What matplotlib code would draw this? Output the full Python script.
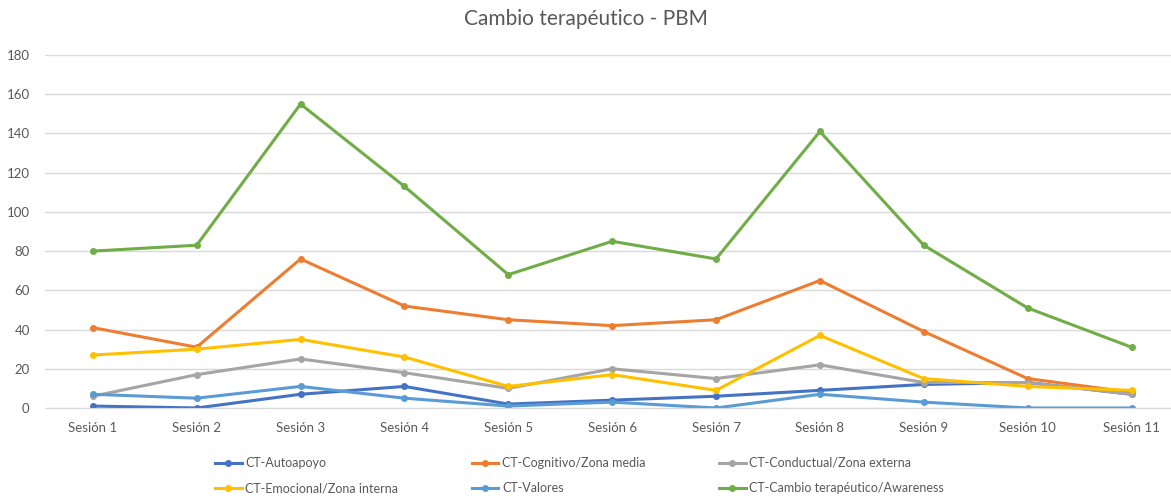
import matplotlib
matplotlib.use('Agg')
import matplotlib.pyplot as plt

plt.rcParams['font.family'] = ['Lato', 'DejaVu Sans']

sessions = ['Sesión 1', 'Sesión 2', 'Sesión 3', 'Sesión 4', 'Sesión 5', 'Sesión 6',
            'Sesión 7', 'Sesión 8', 'Sesión 9', 'Sesión 10', 'Sesión 11']

autoapoyo = [1, 0, 7, 11, 2, 4, 6, 9, 12, 13, 7]
cognitivo = [41, 31, 76, 52, 45, 42, 45, 65, 39, 15, 8]
conductual = [6, 17, 25, 18, 10, 20, 15, 22, 13, 13, 7]
emocional = [27, 30, 35, 26, 11, 17, 9, 37, 15, 11, 9]
valores = [7, 5, 11, 5, 1, 3, 0, 7, 3, 0, 0]
awareness = [80, 83, 155, 113, 68, 85, 76, 141, 83, 51, 31]

series = [
    ('CT-Autoapoyo', autoapoyo, '#4472C4'),
    ('CT-Cognitivo/Zona media', cognitivo, '#ED7D31'),
    ('CT-Conductual/Zona externa', conductual, '#A5A5A5'),
    ('CT-Emocional/Zona interna', emocional, '#FFC000'),
    ('CT-Valores', valores, '#5B9BD5'),
    ('CT-Cambio terapéutico/Awareness', awareness, '#70AD47'),
]

fig = plt.figure(figsize=(11.71, 5.01), dpi=100)
ax = fig.add_axes([45 / 1171, 1 - 408 / 501, 1 - 45 / 1171, (408 - 55) / 501])

x = list(range(len(sessions)))
handles = {}
for name, vals, col in series:
    h, = ax.plot(x, vals, color=col, lw=2.2, marker='o', ms=4, label=name,
                 solid_joinstyle='round')
    handles[name] = h

ax.set_ylim(0, 180)
ax.set_yticks(range(0, 181, 20))
ax.set_xlim(-0.46, 10.38)
ax.set_xticks(x)
ax.set_xticklabels(sessions)
ax.grid(axis='y', color='#D9D9D9', lw=1)
ax.set_axisbelow(True)
for s in ax.spines.values():
    s.set_visible(False)
ax.spines['bottom'].set_visible(True)
ax.spines['bottom'].set_color('#D9D9D9')
ax.tick_params(length=0, colors='#595959', labelsize=9.5)
ax.tick_params(axis='x', pad=10)
ax.tick_params(axis='y', pad=11)

fig.text(0.5, 0.962, 'Cambio terapéutico - PBM', ha='center', va='center',
         fontsize=15, color='#595959')

order = ['CT-Autoapoyo', 'CT-Emocional/Zona interna', 'CT-Cognitivo/Zona media',
         'CT-Valores', 'CT-Conductual/Zona externa', 'CT-Cambio terapéutico/Awareness']
leg = fig.legend([handles[n] for n in order], order, ncol=3, loc='center',
                 bbox_to_anchor=(0.495, 0.051), frameon=False, fontsize=9,
                 handlelength=2.1, columnspacing=5.9, labelspacing=1.05,
                 handletextpad=0.3)
for t in leg.get_texts():
    t.set_color('#595959')

fig.savefig('out.png', dpi=100)
